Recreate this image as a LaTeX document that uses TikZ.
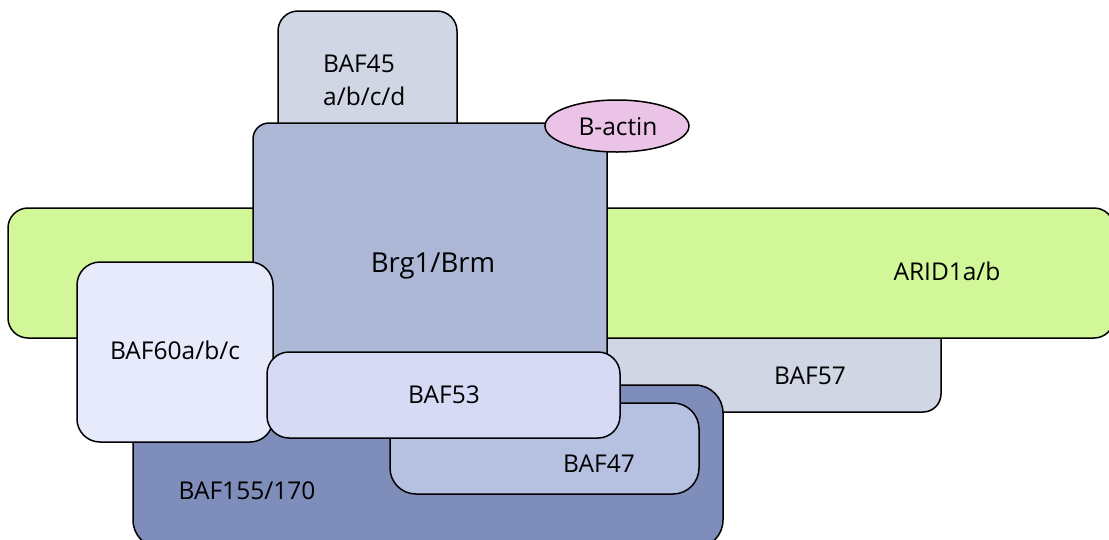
\documentclass[tikz,border=0pt]{standalone}
\usepackage{fontspec}
\setmainfont{Open Sans}
\usetikzlibrary{shapes.geometric}
\begin{document}
\begin{tikzpicture}[x=1pt,y=-1pt,
  unit/.style={draw=black,line width=1.5pt,rectangle,rounded corners=18pt,
    inner sep=0pt,outer sep=0pt,anchor=north west},
  lbl/.style={font=\fontsize{24.5}{33}\selectfont,inner sep=0pt,text=black,anchor=base},
  biglbl/.style={lbl,font=\fontsize{27.5}{33}\selectfont}]
\definecolor{capgray}{HTML}{D0D6E4}
\definecolor{brgblue}{HTML}{ADB8D6}
\definecolor{aridgreen}{HTML}{D2F799}
\definecolor{sixtyblue}{HTML}{E6EAFB}
\definecolor{lavender}{HTML}{D7DAF5}
\definecolor{deepblue}{HTML}{7F8DBA}
\definecolor{midblue}{HTML}{B6C1E1}
\definecolor{actinpink}{HTML}{EBC3E6}
\useasboundingbox (0,0) rectangle (1109,539);
\clip (0,0) rectangle (1109,539);
% subunits, back to front
\node[unit,fill=capgray,minimum width=179pt,minimum height=140pt,rounded corners=20pt] (baf45) at (278,11) {};
\node[unit,fill=capgray,minimum width=400pt,minimum height=100pt] (baf57) at (541,312) {};
\node[unit,fill=aridgreen,minimum width=1106pt,minimum height=130pt,rounded corners=20pt] (arid) at (8,208) {};
\node[unit,fill=brgblue,minimum width=354pt,minimum height=260pt,rounded corners=16pt] (brg) at (253,123) {};
\node[unit,fill=deepblue,minimum width=590pt,minimum height=163pt,rounded corners=28pt] (baf155) at (133,385) {};
\node[unit,fill=midblue,minimum width=309pt,minimum height=91pt,rounded corners=26pt] (baf47) at (390,403) {};
\node[unit,fill=sixtyblue,minimum width=196pt,minimum height=180pt,rounded corners=23pt] (baf60) at (77,262) {};
\node[unit,fill=lavender,minimum width=353pt,minimum height=86pt,rounded corners=22pt] (baf53) at (267,352) {};
\node[draw=black,line width=1.5pt,ellipse,fill=actinpink,minimum width=144pt,minimum height=52pt,inner sep=0pt] (actin) at (617,126) {};
% labels
\node[lbl,anchor=base west] (t45a) at (323,72) {BAF45};
\node[lbl,anchor=base west] (t45b) at (323,105) {a/b/c/d};
\node[lbl] (tactin) at (618,135) {B-actin};
\node[biglbl] (tbrg) at (433,272) {Brg1/Brm};
\node[lbl] (tarid) at (947,280) {ARID1a/b};
\node[lbl] (t60) at (175,359) {BAF60a/b/c};
\node[lbl] (t53) at (444,403) {BAF53};
\node[lbl] (t57) at (810,384) {BAF57};
\node[lbl] (t47) at (599,472) {BAF47};
\node[lbl] (t155) at (247,499) {BAF155/170};
\end{tikzpicture}
\end{document}
